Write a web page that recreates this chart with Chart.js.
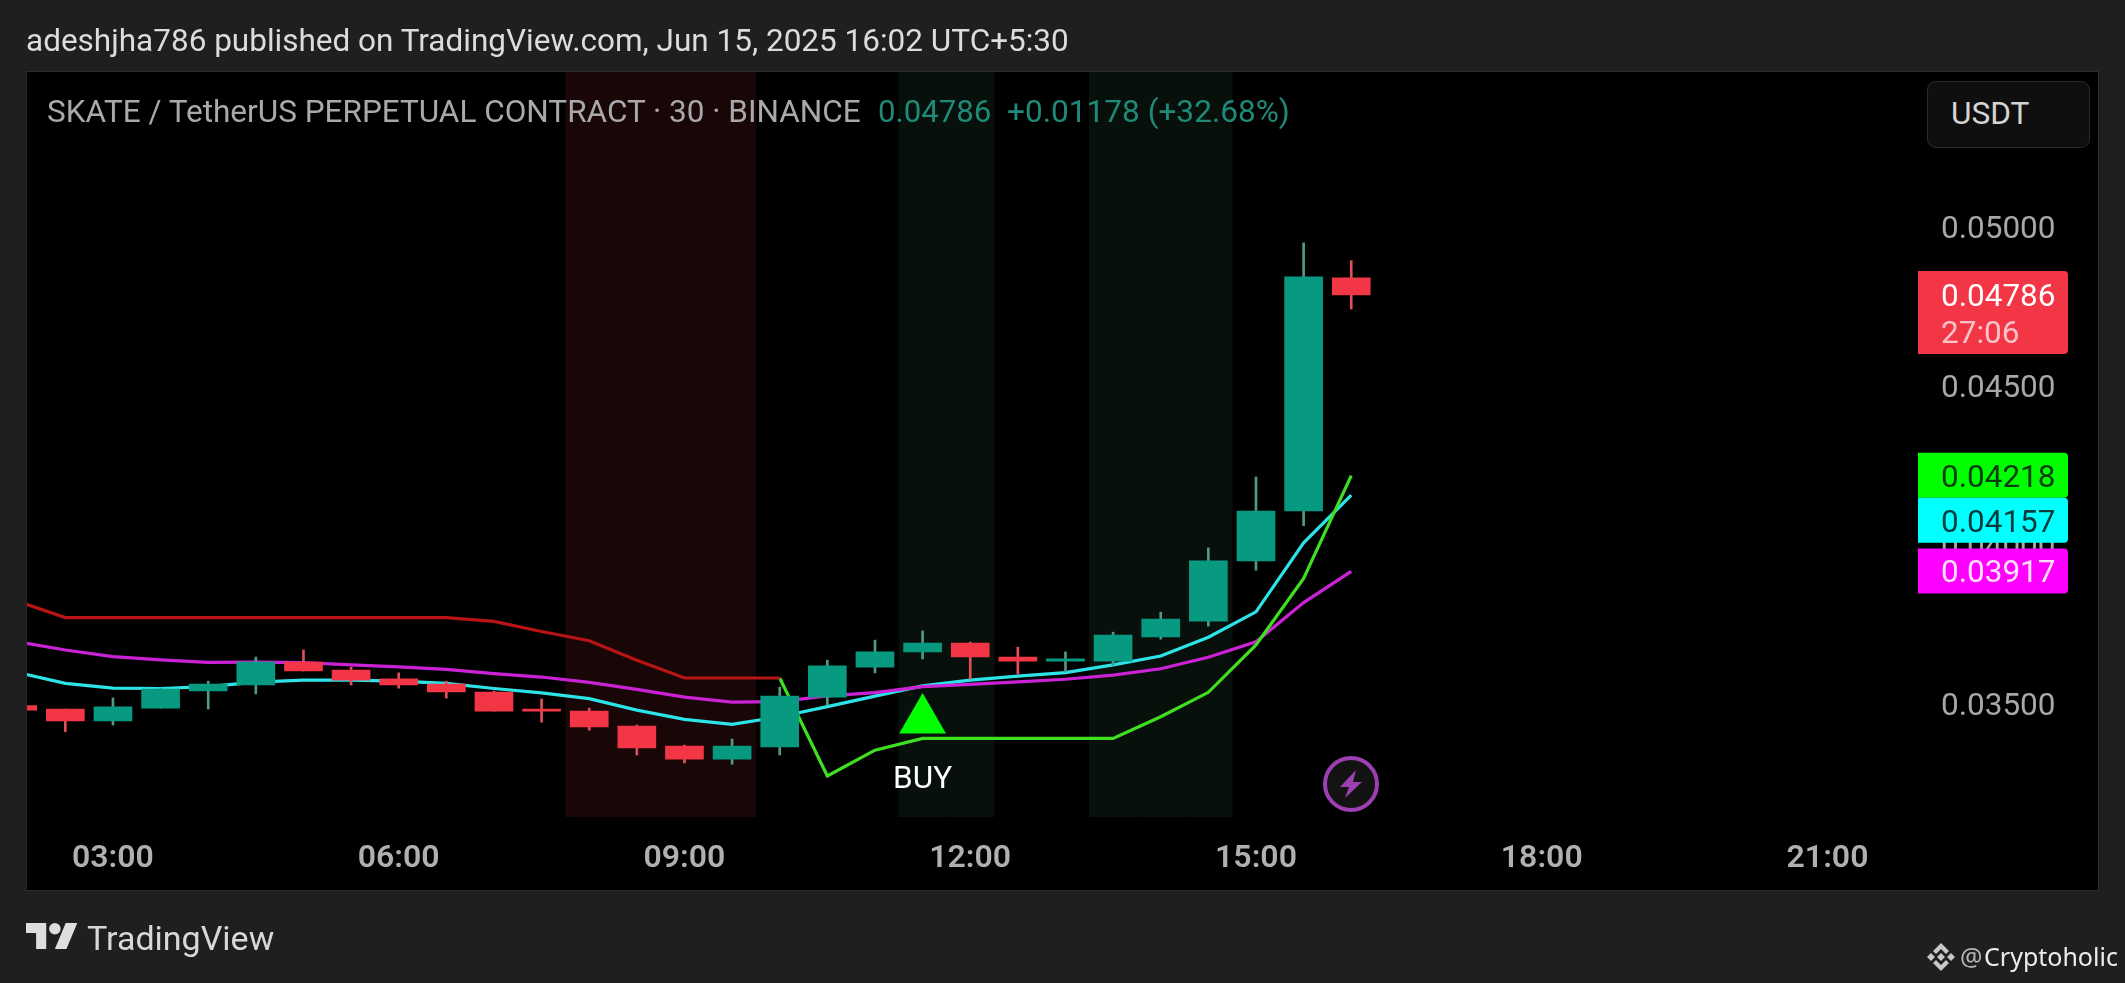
<!DOCTYPE html>
<html>
<head>
<meta charset="utf-8">
<title>SKATE / TetherUS</title>
<script src="https://cdn.jsdelivr.net/npm/chart.js@4"></script>
<style>
  html, body { margin: 0; height: 100%; background: #1f1f1f; overflow: hidden; font-family: Roboto, sans-serif; }
  .panel { position: absolute; left: 26px; top: 71px; width: 2071px; height: 818px; background: #000; border: 1px solid #2c2c2c; border-left-color: #272727; }
  canvas { position: absolute; left: 0; top: 0; }
  .txt { position: absolute; white-space: pre; line-height: 1; }
  #published { left: 26px; top: 25px; font-size: 31.5px; color: #dcdcdc; }
  #symbol { left: 47px; top: 96px; font-size: 31.5px; color: #a9a9ad; }
  #last { left: 878px; top: 96px; font-size: 31.2px; color: #1f8a78; }
  #change { left: 1007px; top: 96px; font-size: 31.6px; color: #1f8a78; }
  #unit { left: 1927px; top: 81px; width: 161px; height: 65px; background: #0f0f0f; border: 1px solid #2b2b2b; border-radius: 9px; }
  #unitText { left: 1951px; top: 98px; font-size: 31.6px; color: #d4d4d4; }
  #brand { left: 87px; top: 921px; font-size: 34px; color: #d8d8d8; }
  #at { left: 1960px; top: 944px; font-size: 25px; color: #b5b5b5; font-family: "Noto Sans", sans-serif; }
  #author { left: 1984px; top: 944px; font-size: 25px; color: #ececec; font-family: "Noto Sans", sans-serif; }
  svg { position: absolute; }
</style>
</head>
<body>
<div class="panel"></div>
<canvas id="chart" width="2125" height="983"></canvas>
<div class="txt" id="published">adeshjha786 published on TradingView.com, Jun 15, 2025 16:02 UTC+5:30</div>
<div class="txt" id="symbol">SKATE / TetherUS PERPETUAL CONTRACT · 30 · BINANCE</div>
<div class="txt" id="last">0.04786</div>
<div class="txt" id="change">+0.01178 (+32.68%)</div>
<div id="unit" style="position:absolute"></div>
<div class="txt" id="unitText">USDT</div>
<svg style="left:26px;top:923px" width="52" height="26" viewBox="0 4 36 18" preserveAspectRatio="none"><path fill="#dedede" d="M14 22H7V11H0V4h14v18zM28 22h-8l7.5-18h8L28 22z"/><circle fill="#dedede" cx="20" cy="8" r="4"/></svg>
<div class="txt" id="brand">TradingView</div>
<svg style="left:1927px;top:943px" width="28" height="28" viewBox="0 0 28 28"><path fill="#c8c8c8" d="M14 0l8 8-3 3-5-5-5 5-3-3zM14 28l8-8-3-3-5 5-5-5-3 3zM14 10l4 4-4 4-4-4zM4 10l4 4-4 4-4-4zM24 10l4 4-4 4-4-4z"/></svg>
<div class="txt" id="at">@</div>
<div class="txt" id="author">Cryptoholic</div>
<svg style="left:1323px;top:756px" width="56" height="56" viewBox="0 0 56 56"><circle cx="28" cy="28" r="26" fill="#131313" stroke="#9c3fb0" stroke-width="4"/><path fill="#9c3fb0" d="M33 14L17 31h9l-4 11 17-16h-9z"/></svg>

<script>
// 30 minute bars, from the picture
const times = ['02:00','02:30','03:00','03:30','04:00','04:30','05:00','05:30','06:00','06:30','07:00','07:30','08:00','08:30','09:00','09:30','10:00','10:30','11:00','11:30','12:00','12:30','13:00','13:30','14:00','14:30','15:00','15:30','16:00'];
const opens  = [0.03495,0.03484,0.03447,0.03487,0.03541,0.03560,0.03632,0.03607,0.03579,0.03563,0.03538,0.03484,0.03478,0.03431,0.03368,0.03327,0.03365,0.03522,0.03616,0.03664,0.03692,0.03648,0.03635,0.03635,0.03711,0.03761,0.03950,0.04107,0.04840];
const closes = [0.03481,0.03447,0.03491,0.03547,0.03563,0.03632,0.03604,0.03575,0.03560,0.03538,0.03478,0.03478,0.03428,0.03362,0.03327,0.03368,0.03525,0.03620,0.03664,0.03692,0.03648,0.03635,0.03642,0.03717,0.03767,0.03950,0.04107,0.04843,0.04786];
const highs  = [0.03495,0.03484,0.03519,0.03550,0.03572,0.03648,0.03670,0.03616,0.03598,0.03572,0.03541,0.03516,0.03487,0.03434,0.03371,0.03390,0.03553,0.03638,0.03701,0.03730,0.03695,0.03679,0.03664,0.03726,0.03789,0.03991,0.04214,0.04950,0.04894];
const lows   = [0.03481,0.03413,0.03434,0.03487,0.03484,0.03532,0.03604,0.03560,0.03550,0.03519,0.03478,0.03443,0.03418,0.03340,0.03315,0.03311,0.03340,0.03497,0.03598,0.03642,0.03579,0.03594,0.03601,0.03623,0.03704,0.03745,0.03921,0.04061,0.04742];

const redLine     = [0.03823,0.03772,0.03772,0.03772,0.03772,0.03772,0.03772,0.03772,0.03772,0.03772,0.03760,0.03728,0.03699,0.03638,0.03582,0.03582,0.03582];
const greenTimes  = ['10:00','10:30','11:00','11:30','12:00','12:30','13:00','13:30','14:00','14:30','15:00','15:30','16:00'];
const greenLine   = [0.03582,0.03274,0.03355,0.03392,0.03392,0.03392,0.03392,0.03392,0.03460,0.03537,0.03686,0.03895,0.04218];
const magentaLine = [0.03696,0.03670,0.03649,0.03639,0.03631,0.03632,0.03630,0.03623,0.03617,0.03609,0.03596,0.03585,0.03568,0.03546,0.03522,0.03506,0.03508,0.03526,0.03536,0.03555,0.03562,0.03570,0.03578,0.03591,0.03611,0.03647,0.03696,0.03819,0.03917];
const cyanLine    = [0.03599,0.03565,0.03550,0.03549,0.03555,0.03569,0.03575,0.03575,0.03572,0.03565,0.03549,0.03535,0.03517,0.03481,0.03452,0.03436,0.03460,0.03492,0.03525,0.03557,0.03575,0.03588,0.03599,0.03623,0.03651,0.03710,0.03790,0.04007,0.04157];

const sellBars = ['08:00','08:30','09:00','09:30'];
const buyBars  = ['11:30','12:00','13:30','14:00','14:30'];
const buySignalTime = '11:30';
const buySignalValue = 0.03450;

const timeTicks  = ['03:00','06:00','09:00','12:00','15:00','18:00','21:00'];
const priceTicks = [0.035,0.04,0.045,0.05];
const countdown = '27:06';

const hours = t => parseInt(t.slice(0, 2)) + parseInt(t.slice(3)) / 60;
const yMin = 0.03145, yMax = 0.05487;
const fmt = v => v.toFixed(5);

const upColor = '#089981', downColor = '#f23645';

function series(labels, values) {
    return labels.map((t, i) => ({ x: hours(t), y: values[i] }));
}

function band(labels, color) {
    return {
        type: 'bar', order: 9, barThickness: 47.7, backgroundColor: color,
        data: labels.map(t => ({ x: hours(t), y: [yMin, yMax] }))
    };
}

function line(labels, values, color) {
    return {
        type: 'line', order: 5, data: series(labels, values),
        borderColor: color, borderWidth: 3.2, pointRadius: 0, tension: 0
    };
}

// Price tags and the BUY caption sit on top of everything else
const overlay = {
    id: 'overlay',
    afterDraw(chart) {
        const { ctx } = chart;
        const xs = chart.scales.x, ys = chart.scales.y;
        const left = 1918, width = 150;

        function box(top, height, color) {
            ctx.fillStyle = color;
            ctx.beginPath();
            ctx.roundRect(left, top, width, height, [0, 4, 4, 0]);
            ctx.fill();
        }
        ctx.save();
        ctx.font = '31.5px Roboto';
        ctx.textAlign = 'left';
        ctx.textBaseline = 'middle';

        // live price with countdown
        const lastClose = closes[closes.length - 1];
        const py = ys.getPixelForValue(lastClose);
        box(py - 24, 83, downColor);
        ctx.fillStyle = '#ffffff';
        ctx.fillText(fmt(lastClose), 1941, py + 3);
        ctx.fillStyle = 'rgba(255,255,255,0.7)';
        ctx.fillText(countdown, 1941, py + 40);

        // indicator tags get pushed down when they would overlap
        const tags = [
            { v: greenLine[greenLine.length - 1], bg: '#00ff00', fg: '#0b3d0b' },
            { v: cyanLine[cyanLine.length - 1], bg: '#00ffff', fg: '#063c3c' },
            { v: magentaLine[magentaLine.length - 1], bg: '#ff00ff', fg: '#ffe0ff' }
        ];
        let bottom = -Infinity;
        tags.forEach(tag => {
            const top = Math.max(ys.getPixelForValue(tag.v) - 23, bottom);
            box(top, 45, tag.bg);
            ctx.fillStyle = tag.fg;
            ctx.fillText(fmt(tag.v), 1941, top + 26);
            bottom = top + 45;
        });

        // BUY caption under the signal triangle
        ctx.fillStyle = '#ffffff';
        ctx.textAlign = 'center';
        ctx.fillText('BUY', xs.getPixelForValue(hours(buySignalTime)), ys.getPixelForValue(buySignalValue) + 60);
        ctx.restore();
    }
};

new Chart(document.getElementById('chart'), {
    data: {
        datasets: [
            band(sellBars, '#180706'),
            band(buyBars, '#07100a'),
            line(times.slice(0, redLine.length), redLine, '#b81414'),
            line(greenTimes, greenLine, '#3fe01f'),
            line(times, magentaLine, '#cc22d6'),
            line(times, cyanLine, '#2de3e8'),
            {
                type: 'bar', order: 3, barThickness: 2,
                backgroundColor: closes.map((c, i) => c >= opens[i] ? '#4f9a88' : '#e0505c'),
                data: times.map((t, i) => ({ x: hours(t), y: [lows[i], highs[i]] }))
            },
            {
                type: 'bar', order: 2, barThickness: 38,
                backgroundColor: closes.map((c, i) => c >= opens[i] ? upColor : downColor),
                data: times.map((t, i) => ({ x: hours(t), y: [opens[i], closes[i]] }))
            },
            {
                type: 'scatter', order: 1,
                data: [{ x: hours(buySignalTime), y: buySignalValue }],
                pointStyle: 'triangle', pointRadius: 27, pointBorderWidth: 0,
                backgroundColor: '#00ff00', borderWidth: 0
            }
        ]
    },
    options: {
        responsive: false,
        animation: false,
        devicePixelRatio: 1,
        layout: { padding: { left: 26, top: 72, right: 27, bottom: 93 } },
        datasets: { bar: { grouped: false } },
        plugins: { legend: { display: false }, tooltip: { enabled: false } },
        scales: {
            x: {
                type: 'linear',
                offset: false,
                min: 2.0976, max: 21.95,
                grid: { display: false, offset: false },
                border: { display: false },
                afterFit: s => { s.height = 73; },
                afterBuildTicks: s => { s.ticks = timeTicks.map(t => ({ value: hours(t), label: t })); },
                ticks: {
                    autoSkip: false, maxRotation: 0, padding: 15,
                    color: '#b0b0b0', font: { family: 'Roboto', size: 32, weight: '600' },
                    callback: v => timeTicks.find(t => hours(t) === v)
                }
            },
            y: {
                position: 'right',
                min: yMin, max: yMax,
                grid: { display: false },
                border: { display: false },
                afterFit: s => { s.width = 180; },
                afterBuildTicks: s => { s.ticks = priceTicks.map(v => ({ value: v })); },
                ticks: {
                    padding: 15, labelOffset: 3,
                    color: '#a8a8a8', font: { family: 'Roboto', size: 31.5 },
                    callback: v => fmt(v)
                }
            }
        }
    },
    plugins: [overlay]
});
</script>
</body>
</html>
